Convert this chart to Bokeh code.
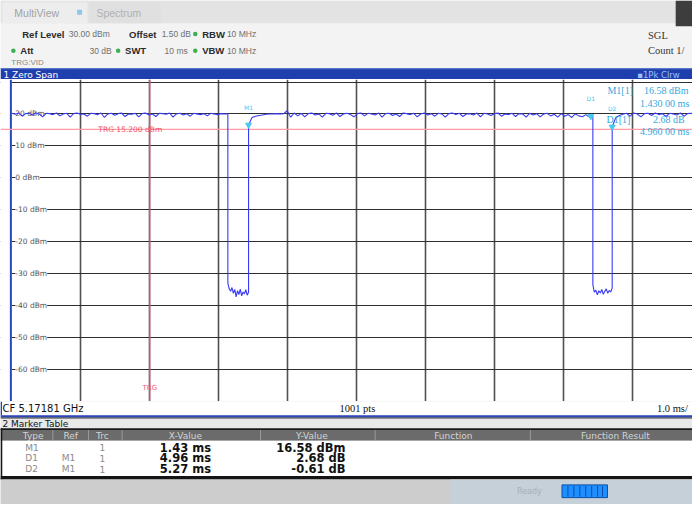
import numpy as np
from bokeh.plotting import figure
from bokeh.models import Range1d, Grid, FixedTicker, LabelSet, ColumnDataSource
from bokeh.layouts import column
from bokeh.core.properties import value
from bokeh.embed import file_html
from bokeh.resources import INLINE

# ---------------- instrument settings ----------------
ref_level_dbm = 30.0
offset_db = 1.50
att_db = 30
rbw_mhz = 10
vbw_mhz = 10
swt_ms = 10
center_freq_ghz = 5.17181
sweep_points = 1001
sweep_start_ms = -2.0
sweep_stop_ms = 8.0

# ---------------- axes ----------------
x_div_ms = [-1, 0, 1, 2, 3, 4, 5, 6, 7]
y_grid_dbm = [30, 20, 10, 0, -10, -20, -30, -40, -50, -60, -70]
y_tick_dbm = [20, 10, 0, -10, -20, -30, -40, -50, -60]
y_tick_labels = ["20 dBm", "10 dBm", "0 dBm", "-10 dBm", "-20 dBm",
                 "-30 dBm", "-40 dBm", "-50 dBm", "-60 dBm"]

trigger_time_ms = 0.0
trigger_level_dbm = 15.2

# ---------------- trace ----------------
segment_edges_ms = [-2.0, 1.13, 1.43, 6.42, 6.70, 8.0]
seg_on1_dbm = [20.2, 19.9, 20.3, 19.3, 20.1, 20.2, 19.7, 20.3, 20.0, 19.1, 20.2, 20.1, 19.8,
               20.3, 19.4, 20.0, 20.2, 19.0, 20.1, 20.3, 19.9, 20.0, 19.3, 20.2, 20.1, 19.8,
               20.3, 18.9, 20.0, 20.2, 19.6, 20.1, 20.3, 19.2, 20.0, 19.9, 20.2, 19.1, 20.1,
               20.3, 19.7, 20.0, 19.2, 20.2, 20.1, 19.9, 20.3, 19.0, 20.0, 20.2, 19.7, 20.1,
               19.3, 20.2, 20.0, 19.8, 20.1, 19.4, 20.2, 20.0, 19.8, 20.1, 20.0, 20.1]
seg_off1_dbm = [-33.0, -34.8, -35.6, -34.4, -36.2, -35.0, -37.3, -35.4, -36.6, -34.9,
                -37.0, -35.8, -36.4, -35.1, -36.8, -35.9]
seg_on2_dbm = [16.58, 18.9, 19.3, 19.5, 19.7, 19.9, 20.0, 20.0, 20.1, 20.0, 20.1, 21.0, 19.0,
               20.3, 19.4, 20.2, 19.1, 20.1, 20.3, 19.7, 20.0, 19.0, 20.2, 20.1, 19.6, 20.3,
               19.2, 20.0, 20.2, 19.8, 19.1, 20.1, 20.3, 19.4, 20.2, 20.0, 19.7, 20.3, 19.0,
               20.1, 20.2, 19.5, 20.0, 19.2, 20.3, 20.1, 19.8, 20.2, 19.1, 20.0, 20.3, 19.7,
               20.1, 19.3, 20.2, 20.0, 19.0, 20.1, 20.3, 19.8, 20.2, 19.2, 20.0, 20.1, 19.7,
               20.3, 19.1, 20.2, 20.0, 19.5, 20.1, 20.3, 19.3, 20.0, 19.8, 20.2, 19.2, 20.1,
               20.0, 19.0, 20.2, 19.7, 20.1, 19.1, 20.0, 20.2, 19.4, 19.9, 19.0, 20.1, 19.3,
               19.8, 18.9, 20.0, 19.4, 19.1, 19.8, 19.0, 19.26]
seg_off2_dbm = [-33.5, -35.9, -35.2, -36.7, -35.4, -36.1, -35.0, -36.5, -35.6, -34.8,
                -36.2, -35.3, -35.8, -34.6]
seg_on3_dbm = [15.97, 18.8, 19.5, 19.9, 20.2, 19.3, 20.3, 20.0, 19.1, 20.1, 20.2, 19.5, 20.3,
               19.8, 20.1, 19.2, 20.2, 20.0, 19.7, 20.3, 19.3, 20.1, 20.2, 19.8, 20.0, 20.1]

# ---------------- marker table ----------------
marker_type = ["M1", "D1", "D2"]
marker_ref = ["", "M1", "M1"]
marker_trc = ["1", "1", "1"]
marker_x_ms = [1.43, 4.96, 5.27]
marker_y_val = [16.58, 2.68, -0.61]
marker_y_unit = ["dBm", "dB", "dB"]
table_headers = ["Type", "Ref", "Trc", "X-Value", "Y-Value", "Function", "Function Result"]

# ---------------- layout helpers (reference pixel geometry) ----------------
W = 692
X_LEFT_PX, PX_PER_DIV = 11.5, 69.8
Y_TOP_PX, PX_PER_DB = 82.6, 3.24


def rx(px):
    return sweep_start_ms + (px - X_LEFT_PX) / PX_PER_DIV


def ry(py):
    return ref_level_dbm - (py - Y_TOP_PX) / PX_PER_DB


def txt(p, x, y, s, size, color, font="Liberation Sans", style="normal",
        align="left", baseline="middle"):
    p.text(x=[x], y=[y], text=[s], text_font=value(font), text_font_size=size,
           text_color=color, text_font_style=style, text_align=align,
           text_baseline=baseline)


def panel(h, y_top, y_bottom, bg):
    p = figure(width=W, height=h, x_range=Range1d(0, 700), y_range=Range1d(y_bottom, y_top),
               x_axis_type=None, y_axis_type=None, toolbar_location=None,
               output_backend="svg", min_border=0, outline_line_color=None,
               background_fill_color=bg, border_fill_color=bg)
    return p


def box(p, l, r, t, b, color, line=None):
    p.quad(left=[l], right=[r], top=[t], bottom=[b], fill_color=color,
           line_color=line if line else None)


# ================= header =================
hdr = panel(79, 0, 80, "#f3f3f3")
box(hdr, 0, 700, 0, 23, "#e3e3e3")
box(hdr, 2, 88, 2, 23, "#ededed")
box(hdr, 90, 162, 2, 23, "#e0e0e0")
box(hdr, 683, 700, 0, 26, "#3d3d3d")
txt(hdr, 14, 13, "MultiView", "10.5px", "#a2a2a2")
hdr.scatter(x=[80], y=[12], marker="square", size=5, fill_color="#8cc8e8", line_color=None)
txt(hdr, 97, 13, "Spectrum", "10.5px", "#b0b0b0")

bold_items = [("Ref Level", 22, 34), ("Offset", 130, 34), ("RBW", 204, 34),
              ("Att", 20, 51), ("SWT", 126, 51), ("VBW", 204, 51)]
for s, x, y in bold_items:
    txt(hdr, x, y, s, "9.5px", "#2b2b2b", style="bold")
val_items = [(f"{ref_level_dbm:.2f} dBm", 69, 34), (f"{offset_db:.2f} dB", 163, 34),
             (f"{rbw_mhz} MHz", 229, 34), (f"{att_db} dB", 90, 51),
             (f"{swt_ms} ms", 166, 51), (f"{vbw_mhz} MHz", 229, 51)]
for s, x, y in val_items:
    txt(hdr, x, y, s, "8.5px", "#707070")
hdr.scatter(x=[197, 13, 119, 197], y=[34, 51, 51, 51], marker="circle", size=4.5,
            fill_color="#3cb050", line_color=None)
txt(hdr, 11, 63, "TRG:VID", "8px", "#8a8a8a")
txt(hdr, 655, 35, "SGL", "10.5px", "#333333", font="Liberation Serif")
txt(hdr, 655, 51, "Count 1/", "10.5px", "#333333", font="Liberation Serif")

box(hdr, 0, 700, 68.5, 80, "#1f3fae")
box(hdr, 0, 700, 68.5, 69.5, "#5a78cc")
txt(hdr, 3, 75, "1 Zero Span", "9px", "#ffffff", font="DejaVu Sans")
txt(hdr, 644, 75, "\u25aa1Pk Clrw", "8.5px", "#9cc0ff", font="DejaVu Sans")

# ================= chart =================
xr = Range1d(rx(0), rx(700))
yr = Range1d(ry(407), ry(80))
c = figure(width=W, height=322, x_range=xr, y_range=yr, x_axis_type=None,
           y_axis_type=None, toolbar_location=None, output_backend="svg",
           min_border=0, outline_line_color=None, background_fill_color="white",
           border_fill_color="white")
c.add_layout(Grid(dimension=0, ticker=FixedTicker(ticks=x_div_ms),
                  grid_line_color="#505050", grid_line_width=1.6))
c.add_layout(Grid(dimension=1, ticker=FixedTicker(ticks=y_grid_dbm),
                  grid_line_color="#2e2e2e", grid_line_width=1.2))

lab_src = ColumnDataSource(dict(x=[rx(15)] * len(y_tick_dbm), y=y_tick_dbm, t=y_tick_labels))
c.add_layout(LabelSet(x="x", y="y", text="t", source=lab_src, text_font=value("DejaVu Sans"),
                      text_font_size="7.5px", text_color="#555555", text_baseline="middle",
                      background_fill_color="white", level="underlay"))

# left panel margin and border
c.quad(left=[xr.start], right=[sweep_start_ms], top=[yr.end], bottom=[yr.start],
       fill_color="white", line_color=None)
c.segment(x0=[rx(10.5)], y0=[yr.start], x1=[rx(10.5)], y1=[yr.end],
          line_color="#2848b8", line_width=2)

# trigger lines
c.segment(x0=[xr.start], y0=[trigger_level_dbm], x1=[xr.end], y1=[trigger_level_dbm],
          line_color="#ff9aa4", line_width=1.2)
c.segment(x0=[trigger_time_ms], y0=[yr.start], x1=[trigger_time_ms], y1=[yr.end],
          line_color="#e06a86", line_width=1.1)
txt(c, rx(99), trigger_level_dbm, f"TRG  {trigger_level_dbm:.3f} dBm", "7.5px", "#f0506a",
    font="DejaVu Sans")
txt(c, trigger_time_ms, ry(393), "TRG", "7px", "#f0607a", font="DejaVu Sans", align="center")

# trace
segments = [seg_on1_dbm, seg_off1_dbm, seg_on2_dbm, seg_off2_dbm, seg_on3_dbm]
trace_t, trace_v = [], []
for a, b, vals in zip(segment_edges_ms[:-1], segment_edges_ms[1:], segments):
    trace_t.extend(np.linspace(a, b, len(vals)))
    trace_v.extend(vals)
c.line(trace_t, trace_v, line_color="#3a3af2", line_width=1.1)

# markers
m_t = [marker_x_ms[0], marker_x_ms[0] + marker_x_ms[1], marker_x_ms[0] + marker_x_ms[2]]
m_v = [marker_y_val[0], marker_y_val[0] + marker_y_val[1], marker_y_val[0] + marker_y_val[2]]
cyan = "#33a8dc"
c.scatter(x=m_t, y=m_v, marker="inverted_triangle", size=6, fill_color="#48c8f0",
          line_color="#48c8f0")
c.text(x=m_t, y=[v + 4.5 for v in m_v], text=marker_type, text_font=value("DejaVu Sans"),
       text_font_size="6px", text_color="#48c8f0", text_align="center",
       text_baseline="bottom")


def ms5(v):
    s = f"{v:.5f}"
    return s[:-2] + " " + s[-2:] + " ms"


txt(c, rx(614), ry(91), "M1[1]", "10px", cyan, font="Liberation Serif")
txt(c, rx(651), ry(91), f"{marker_y_val[0]:.2f} {marker_y_unit[0]}", "10px", cyan,
    font="Liberation Serif")
txt(c, rx(647), ry(104), ms5(marker_x_ms[0]), "10px", cyan, font="Liberation Serif")
txt(c, rx(613), ry(121), "D1[1]", "10px", cyan, font="Liberation Serif")
txt(c, rx(660), ry(121), f"{marker_y_val[1]:.2f} {marker_y_unit[1]}", "10px", cyan,
    font="Liberation Serif")
txt(c, rx(647), ry(133), ms5(marker_x_ms[1]), "10px", cyan, font="Liberation Serif")

# ================= footer: CF row, marker table, status bar =================
ft = panel(103, 407, 512, "#e8e8e8")
box(ft, 0, 700, 407, 421, "white")
box(ft, 0, 1.5, 407, 421, "#2040b0")
box(ft, 0, 700, 421, 423.3, "#2a46b8")
txt(ft, 2, 414.5, f"CF {center_freq_ghz:.5f} GHz", "10px", "#111111", font="DejaVu Sans")
txt(ft, 361, 414.5, f"{sweep_points} pts", "10.5px", "#111111", font="Liberation Serif",
    align="center")
txt(ft, 664, 414.5, f"{swt_ms / 10:.1f} ms/", "10.5px", "#111111", font="Liberation Serif")

box(ft, 0, 700, 423.3, 424.3, "#333333")
txt(ft, 2, 429.8, "2 Marker Table", "9px", "#111111", font="DejaVu Sans")
box(ft, 0, 700, 435, 447, "#6b6b6b")
box(ft, 0, 700, 434.3, 436, "#1a1a1a")
ft.segment(x0=[53, 89, 123, 263, 379, 536], y0=[436] * 6, x1=[53, 89, 123, 263, 379, 536],
           y1=[447] * 6, line_color="#9a9a9a", line_width=1)
hdr_cx = [33, 71, 103, 187, 315, 458, 622]
ft.text(x=hdr_cx, y=[441.8] * len(hdr_cx), text=table_headers, text_font=value("DejaVu Sans"),
        text_font_size="9px", text_color="#d4d4d4", text_align="center",
        text_baseline="middle")
box(ft, 1.5, 700, 447, 483, "white")
box(ft, 0, 700, 483, 486.5, "#151515")
box(ft, 0, 1.8, 434.3, 486.5, "#151515")

row_y = [454, 465, 476]
ft.text(x=[25] * 3, y=row_y, text=marker_type, text_font=value("DejaVu Sans"),
        text_font_size="9px", text_color="#8a8a8a", text_baseline="middle")
ft.text(x=[62] * 3, y=row_y, text=marker_ref, text_font=value("DejaVu Sans"),
        text_font_size="9px", text_color="#8a8a8a", text_baseline="middle")
ft.text(x=[103] * 3, y=row_y, text=marker_trc, text_font=value("DejaVu Sans"),
        text_font_size="9px", text_color="#8a8a8a", text_baseline="middle",
        text_align="center")
ft.text(x=[213] * 3, y=row_y, text=[f"{v:.2f} ms" for v in marker_x_ms],
        text_font=value("DejaVu Sans"), text_font_size="11.5px", text_font_style="bold",
        text_color="#111111", text_align="right", text_baseline="middle")
ft.text(x=[349] * 3, y=row_y,
        text=[f"{v:.2f} {u}" for v, u in zip(marker_y_val, marker_y_unit)],
        text_font=value("DejaVu Sans"), text_font_size="11.5px", text_font_style="bold",
        text_color="#111111", text_align="right", text_baseline="middle")

# status bar
box(ft, 0, 700, 486.5, 512, "#cdcdcd")
box(ft, 455, 700, 486.5, 512, "#c6d0d9")
txt(ft, 535, 499, "Ready", "8px", "#a4afb8", font="DejaVu Sans", align="center")
box(ft, 568, 614, 492, 505, "#1f8fff", line="#0b4fa8")
ft.segment(x0=[574, 580, 586, 592, 598, 604, 609], y0=[493] * 7,
           x1=[574, 580, 586, 592, 598, 604, 609], y1=[504] * 7,
           line_color="#0b4fa8", line_width=1)

layout = column(hdr, c, ft, spacing=0)
open("out.html", "w").write(file_html(layout, INLINE))
